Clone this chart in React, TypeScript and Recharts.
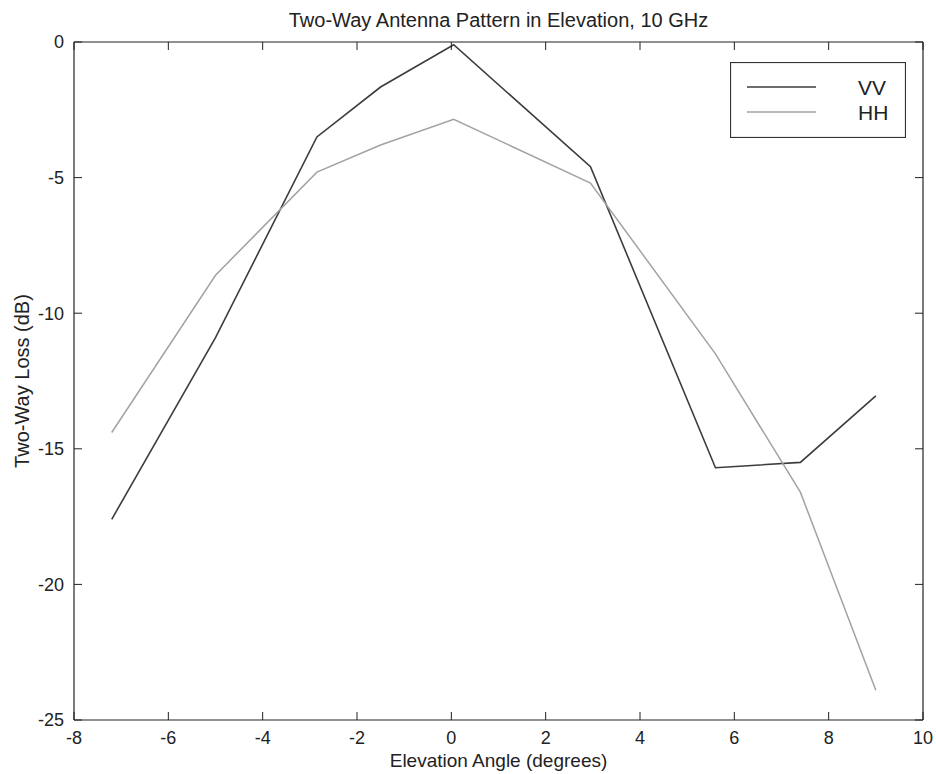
import React from 'react';
import { LineChart, Line, XAxis, YAxis, Legend } from 'recharts';

// Elevation angles (degrees) at which the two-way loss was measured
const angles = [-7.2, -5.0, -2.85, -1.5, 0.05, 2.95, 5.6, 7.4, 9.0];
// Two-way loss (dB), vertical polarisation
const vvLoss = [-17.6, -10.9, -3.5, -1.66, -0.1, -4.6, -15.7, -15.5, -13.05];
// Two-way loss (dB), horizontal polarisation
const hhLoss = [-14.4, -8.6, -4.8, -3.8, -2.85, -5.2, -11.5, -16.6, -23.9];

const xTicks = [-8, -6, -4, -2, 0, 2, 4, 6, 8, 10];
const yTicks = [-25, -20, -15, -10, -5, 0];

const seriesNames = ['VV', 'HH'];
const seriesColors = ['#3c3c3c', '#a2a2a2'];

const title = 'Two-Way Antenna Pattern in Elevation, 10 GHz';
const xTitle = 'Elevation Angle (degrees)';
const yTitle = 'Two-Way Loss (dB)';

const data = angles.map((a, i) => ({ angle: a, vv: vvLoss[i], hh: hhLoss[i] }));

const FONT = "'Liberation Sans', Arial, Helvetica, sans-serif";
const INK = '#222';

const W = 936;
const H = 774;
// the top and right axes are 1px thick boxes so that they are drawn as frame edges
const M = { top: 41, right: 12, left: 0, bottom: 0 };
const Y_AXIS_W = 74;
const X_AXIS_H = 54;

const tickStyle = { fill: INK, fontSize: 18, fontFamily: FONT };
const blank = () => '';

function LegendBox() {
  return (
    <svg width={176} height={76} style={{ display: 'block' }}>
      <rect x={0.5} y={0.5} width={175} height={75} fill="#fff" stroke="#333" strokeWidth={1.2} />
      {seriesNames.map((name, i) => (
        <g key={name}>
          <line x1={17} x2={86} y1={25 + i * 25} y2={25 + i * 25} stroke={seriesColors[i]} strokeWidth={1.6} />
          <text
            x={128}
            y={25 + i * 25}
            dominantBaseline="central"
            fontFamily={FONT}
            fontSize={21}
            fill={INK}
          >
            {name}
          </text>
        </g>
      ))}
    </svg>
  );
}

export default function App() {
  const plotLeft = M.left + Y_AXIS_W;
  const plotRight = W - M.right - 1;
  const plotTop = M.top + 1;
  const plotBottom = H - M.bottom - X_AXIS_H;
  const cx = (plotLeft + plotRight) / 2;
  const cy = (plotTop + plotBottom) / 2;

  return (
    <div style={{ position: 'absolute', left: 0, top: 0, width: W, height: H, background: '#fff' }}>
      <LineChart width={W} height={H} data={data} margin={M}>
        <XAxis
          dataKey="angle"
          type="number"
          domain={[-8, 10]}
          ticks={xTicks}
          allowDataOverflow
          height={X_AXIS_H}
          tickSize={-8}
          tickMargin={19}
          tick={tickStyle}
          axisLine={{ stroke: INK, strokeWidth: 1.2 }}
          tickLine={{ stroke: INK }}
        />
        <XAxis
          xAxisId="top"
          dataKey="angle"
          type="number"
          orientation="top"
          domain={[-8, 10]}
          ticks={xTicks}
          allowDataOverflow
          height={1}
          tickSize={-8}
          tickFormatter={blank}
          axisLine={{ stroke: INK, strokeWidth: 1.2 }}
          tickLine={{ stroke: INK }}
        />
        <YAxis
          type="number"
          domain={[-25, 0]}
          ticks={yTicks}
          allowDataOverflow
          width={Y_AXIS_W}
          tickSize={-8}
          tickMargin={18}
          tick={tickStyle}
          axisLine={{ stroke: INK, strokeWidth: 1.2 }}
          tickLine={{ stroke: INK }}
        />
        <YAxis
          yAxisId="right"
          orientation="right"
          type="number"
          domain={[-25, 0]}
          ticks={yTicks}
          allowDataOverflow
          width={1}
          tickSize={-8}
          tickFormatter={blank}
          axisLine={{ stroke: INK, strokeWidth: 1.2 }}
          tickLine={{ stroke: INK }}
        />
        <Legend
          layout="horizontal"
          verticalAlign="middle"
          align="center"
          wrapperStyle={{ position: 'absolute', left: 730, top: 62, width: 176, height: 76 }}
          content={() => <LegendBox />}
        />
        <Line
          type="linear"
          dataKey="vv"
          name="VV"
          stroke={seriesColors[0]}
          strokeWidth={1.6}
          dot={false}
          activeDot={false}
          isAnimationActive={false}
        />
        <Line
          type="linear"
          dataKey="hh"
          name="HH"
          stroke={seriesColors[1]}
          strokeWidth={1.5}
          dot={false}
          activeDot={false}
          isAnimationActive={false}
        />
        <text x={cx} y={27} textAnchor="middle" fontFamily={FONT} fontSize={20} fill={INK}>
          {title}
        </text>
        <text x={cx} y={767} textAnchor="middle" fontFamily={FONT} fontSize={19} fill={INK}>
          {xTitle}
        </text>
        <text
          transform={`translate(29, ${cy}) rotate(-90)`}
          textAnchor="middle"
          fontFamily={FONT}
          fontSize={20}
          fill={INK}
        >
          {yTitle}
        </text>
      </LineChart>
    </div>
  );
}
